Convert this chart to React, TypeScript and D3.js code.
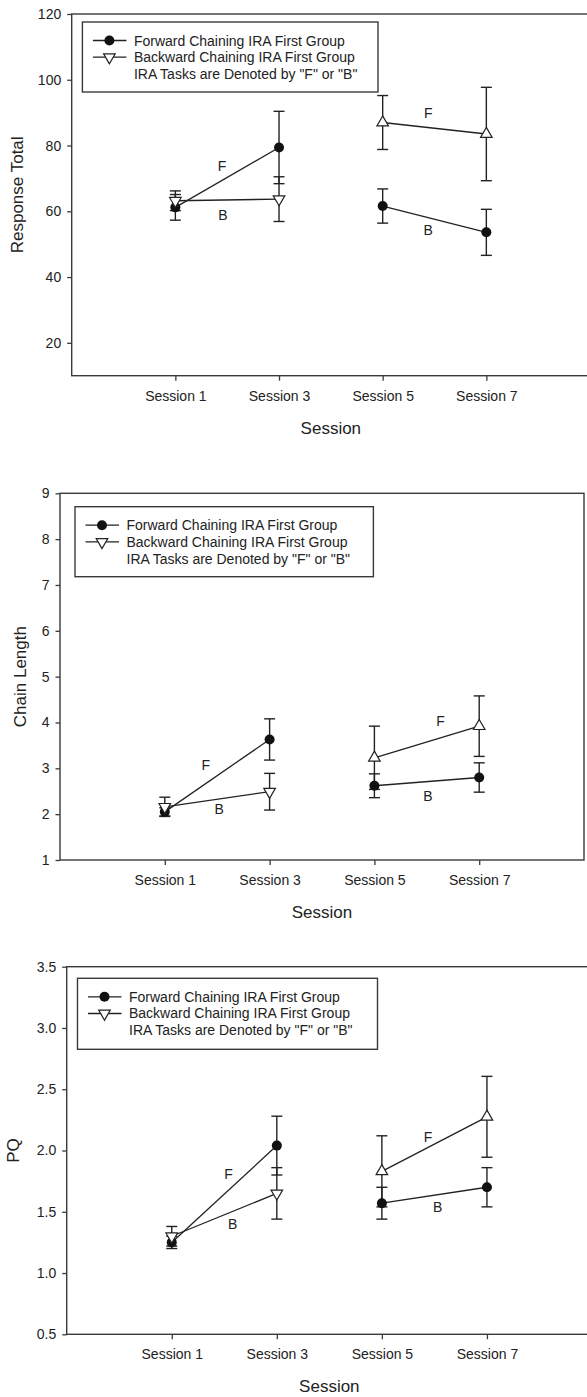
import { useEffect, useRef } from 'react';
import * as d3 from 'd3';

// x categories
const sessions = ['Session 1', 'Session 3', 'Session 5', 'Session 7'];
const sessionPos = [1, 2, 3, 4];
const segments = [[0, 1], [2, 3]];
// backward group triangle direction per session
const backwardShape = ['down', 'down', 'up', 'up'];
const legendLabels = [
  'Forward Chaining IRA First Group',
  'Backward Chaining IRA First Group',
  'IRA Tasks are Denoted by "F" or "B"',
];

// Response Total
const rtForward = [61.2, 79.4, 61.6, 53.6];
const rtForwardErr = [3.9, 11.0, 5.2, 7.0];
const rtBackward = [63.2, 63.7, 87.0, 83.5];
const rtBackwardErr = [3.0, 6.8, 8.2, 14.2];
const rtTicks = [20, 40, 60, 80, 100, 120];
const rtTaskLabels = [
  { text: 'F', x: 1.45, value: 73.8 },
  { text: 'B', x: 1.46, value: 58.8 },
  { text: 'F', x: 3.44, value: 89.9 },
  { text: 'B', x: 3.44, value: 54.3 },
];

// Chain Length
const clForward = [2.05, 3.63, 2.62, 2.8];
const clForwardErr = [0.09, 0.45, 0.26, 0.32];
const clBackward = [2.16, 2.49, 3.23, 3.92];
const clBackwardErr = [0.21, 0.4, 0.69, 0.66];
const clTicks = [1, 2, 3, 4, 5, 6, 7, 8, 9];
const clTaskLabels = [
  { text: 'F', x: 1.39, value: 3.07 },
  { text: 'B', x: 1.52, value: 2.11 },
  { text: 'F', x: 3.63, value: 4.04 },
  { text: 'B', x: 3.51, value: 2.4 },
];

// PQ
const pqForward = [1.25, 2.04, 1.57, 1.7];
const pqForwardErr = [0.05, 0.24, 0.13, 0.16];
const pqBackward = [1.3, 1.65, 1.83, 2.275];
const pqBackwardErr = [0.08, 0.21, 0.29, 0.33];
const pqTicks = [0.5, 1.0, 1.5, 2.0, 2.5, 3.0, 3.5];
const pqTaskLabels = [
  { text: 'F', x: 1.54, value: 1.81 },
  { text: 'B', x: 1.58, value: 1.4 },
  { text: 'F', x: 3.44, value: 2.11 },
  { text: 'B', x: 3.53, value: 1.54 },
];

const FONT = '"Liberation Sans", Arial, Helvetica, sans-serif';
const INK = '#222';
const FRAME = '#3a3a3a';

const panels = [
  {
    left: 71.7, right: 590, top: 14, bottom: 375.7,
    domain: [10, 120], ticks: rtTicks, fmt: d3.format('d'),
    title: 'Response Total', titleX: 17,
    legend: { x: 82.4, y: 22, w: 295.6, h: 70 },
    forward: rtForward, forwardErr: rtForwardErr,
    backward: rtBackward, backwardErr: rtBackwardErr,
    labels: rtTaskLabels,
  },
  {
    left: 60, right: 584, top: 493.3, bottom: 860,
    domain: [1, 9], ticks: clTicks, fmt: d3.format('d'),
    title: 'Chain Length', titleX: 20.6,
    legend: { x: 75, y: 506.7, w: 298.4, h: 70 },
    forward: clForward, forwardErr: clForwardErr,
    backward: clBackward, backwardErr: clBackwardErr,
    labels: clTaskLabels,
  },
  {
    left: 66.7, right: 592, top: 966.7, bottom: 1334.3,
    domain: [0.5, 3.5], ticks: pqTicks, fmt: d3.format('.1f'),
    title: 'PQ', titleX: 13,
    legend: { x: 77.5, y: 978.3, w: 300, h: 71 },
    forward: pqForward, forwardErr: pqForwardErr,
    backward: pqBackward, backwardErr: pqBackwardErr,
    labels: pqTaskLabels,
  },
];

const triangle = d3.symbol().type(d3.symbolTriangle).size(58);

function drawPanel(svg: any, p: any) {
  const x = d3.scaleLinear().domain([0, 5]).range([p.left, p.left + (p.right - p.left)]);
  const y = d3.scaleLinear().domain(p.domain).range([p.bottom, p.top]);
  const g = svg.append('g');

  // frame
  g.append('rect')
    .attr('x', p.left).attr('y', p.top)
    .attr('width', p.right - p.left).attr('height', p.bottom - p.top)
    .attr('fill', 'none').attr('stroke', FRAME).attr('stroke-width', 1.4);

  // y axis
  const yAxis = d3.axisLeft(y).tickValues(p.ticks).tickFormat(p.fmt).tickSize(4.5).tickPadding(6);
  const ya = g.append('g').attr('transform', `translate(${p.left},0)`).call(yAxis);
  ya.select('.domain').remove();
  ya.selectAll('line').attr('stroke', FRAME).attr('stroke-width', 1.3);
  ya.selectAll('text').attr('font-family', FONT).attr('font-size', 14).attr('fill', INK);

  // x axis
  const xAxis = d3.axisBottom(x).tickValues(sessionPos)
    .tickFormat((d: any) => sessions[sessionPos.indexOf(d)]).tickSize(5).tickPadding(10);
  const xa = g.append('g').attr('transform', `translate(0,${p.bottom})`).call(xAxis);
  xa.select('.domain').remove();
  xa.selectAll('line').attr('stroke', FRAME).attr('stroke-width', 1.3);
  xa.selectAll('text').attr('font-family', FONT).attr('font-size', 14).attr('fill', INK);

  // axis titles
  g.append('text')
    .attr('transform', `translate(${p.titleX},${(p.top + p.bottom) / 2}) rotate(-90)`)
    .attr('text-anchor', 'middle').attr('dominant-baseline', 'central')
    .attr('font-family', FONT).attr('font-size', 17).attr('fill', INK)
    .text(p.title);
  g.append('text')
    .attr('x', (p.left + p.right) / 2).attr('y', p.bottom + 58)
    .attr('text-anchor', 'middle')
    .attr('font-family', FONT).attr('font-size', 17).attr('fill', INK)
    .text('Session');

  const series = [
    { values: p.forward, err: p.forwardErr, kind: 'forward' },
    { values: p.backward, err: p.backwardErr, kind: 'backward' },
  ];

  // error bars
  series.forEach((s) => {
    s.values.forEach((v: number, i: number) => {
      const cx = x(sessionPos[i]);
      const y0 = y(v - s.err[i]);
      const y1 = y(v + s.err[i]);
      const eg = g.append('g').attr('stroke', INK).attr('stroke-width', 1.4);
      eg.append('line').attr('x1', cx).attr('x2', cx).attr('y1', y0).attr('y2', y1);
      eg.append('line').attr('x1', cx - 5.5).attr('x2', cx + 5.5).attr('y1', y0).attr('y2', y0);
      eg.append('line').attr('x1', cx - 5.5).attr('x2', cx + 5.5).attr('y1', y1).attr('y2', y1);
    });
  });

  // connecting lines
  const line = d3.line<number>().x((i) => x(sessionPos[i]));
  series.forEach((s) => {
    segments.forEach((seg) => {
      g.append('path')
        .attr('d', line.y((i) => y(s.values[i]))(seg))
        .attr('fill', 'none').attr('stroke', INK).attr('stroke-width', 1.3);
    });
  });

  // markers
  p.forward.forEach((v: number, i: number) => {
    g.append('circle').attr('cx', x(sessionPos[i])).attr('cy', y(v)).attr('r', 5).attr('fill', '#111');
  });
  p.backward.forEach((v: number, i: number) => {
    const rot = backwardShape[i] === 'down' ? 180 : 0;
    g.append('path')
      .attr('d', triangle())
      .attr('transform', `translate(${x(sessionPos[i])},${y(v)}) rotate(${rot})`)
      .attr('fill', '#fff').attr('stroke', INK).attr('stroke-width', 1.2);
  });

  // task labels
  p.labels.forEach((l: any) => {
    g.append('text')
      .attr('x', x(l.x)).attr('y', y(l.value))
      .attr('text-anchor', 'middle').attr('dominant-baseline', 'central')
      .attr('font-family', FONT).attr('font-size', 14).attr('fill', INK)
      .text(l.text);
  });

  // legend
  const L = p.legend;
  const lg = g.append('g').attr('transform', `translate(${L.x},${L.y})`);
  lg.append('rect').attr('width', L.w).attr('height', L.h)
    .attr('fill', '#fff').attr('stroke', FRAME).attr('stroke-width', 1.4);
  const rows = [18.5, 35.2, 52];
  legendLabels.forEach((t, i) => {
    lg.append('text')
      .attr('x', 51.5).attr('y', rows[i])
      .attr('dominant-baseline', 'central')
      .attr('font-family', FONT).attr('font-size', 14).attr('fill', INK)
      .text(t);
  });
  [0, 1].forEach((i) => {
    lg.append('line').attr('x1', 10.5).attr('x2', 44).attr('y1', rows[i]).attr('y2', rows[i])
      .attr('stroke', INK).attr('stroke-width', 1.3);
  });
  lg.append('circle').attr('cx', 27).attr('cy', rows[0]).attr('r', 5).attr('fill', '#111');
  lg.append('path').attr('d', triangle())
    .attr('transform', `translate(27,${rows[1]}) rotate(180)`)
    .attr('fill', '#fff').attr('stroke', INK).attr('stroke-width', 1.2);
}

export default function App() {
  const ref = useRef<SVGSVGElement | null>(null);

  useEffect(() => {
    const svg = d3.select(ref.current);
    svg.selectAll('*').remove();
    panels.forEach((p) => drawPanel(svg, p));
  }, []);

  return (
    <svg
      ref={ref}
      width={587}
      height={1397}
      style={{ position: 'absolute', left: 0, top: 0, background: '#fff' }}
    />
  );
}
